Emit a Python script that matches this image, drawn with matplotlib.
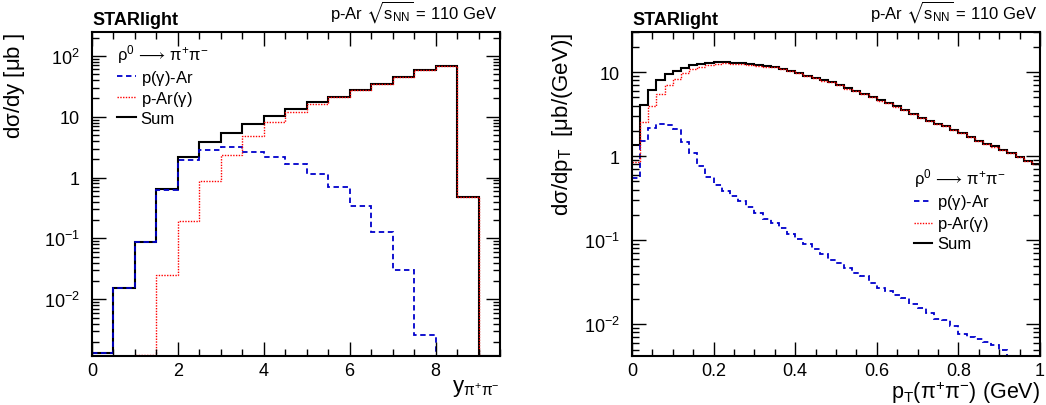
import numpy as np
import matplotlib
matplotlib.use('Agg')
import matplotlib.pyplot as plt
from matplotlib.ticker import LogLocator, FuncFormatter, NullFormatter, MultipleLocator

plt.rcParams['font.family'] = ['Liberation Sans', 'DejaVu Sans']
plt.rcParams['mathtext.fontset'] = 'custom'
plt.rcParams['mathtext.rm'] = 'Liberation Sans'
plt.rcParams['mathtext.it'] = 'Liberation Sans:italic'
plt.rcParams['mathtext.bf'] = 'Liberation Sans:bold'
plt.rcParams['mathtext.sf'] = 'Liberation Sans'
plt.rcParams['mathtext.fallback'] = 'stixsans'

# rapidity histogram, bins of 0.5 from 0 to 9.5
y_edges = np.linspace(0.0, 9.5, 20)
y_pgamma_ar = [0.0013, 0.0155, 0.087, 0.63, 1.97, 2.88, 3.14, 2.67, 2.18, 1.65,
               1.15, 0.69, 0.34, 0.129, 0.0307, 0.0026, 0.0, 0.0, 0.0]
y_p_argamma = [0.0, 0.0, 0.00122, 0.025, 0.197, 0.89, 2.38, 4.9, 8.07, 11.9,
               16.3, 20.8, 27.7, 34.7, 45.0, 58.0, 68.6, 0.48, 0.0]
y_sum = [0.0013, 0.0155, 0.088, 0.655, 2.2, 3.85, 5.4, 7.5, 10.4, 13.5,
         17.4, 21.5, 28.0, 34.8, 45.0, 58.0, 68.6, 0.48, 0.0]

# pT histogram, bins of 0.02 GeV from 0 to 1
pt_edges = np.linspace(0.0, 1.0, 51)
pt_pgamma_ar = [0.55, 1.53, 2.19, 2.44, 2.34, 2.1, 1.49, 1.09, 0.77, 0.57,
                0.45, 0.39, 0.34, 0.29, 0.25, 0.21, 0.18, 0.16, 0.14, 0.12,
                0.104, 0.091, 0.078, 0.068, 0.058, 0.054, 0.047, 0.041, 0.0376, 0.0313,
                0.0268, 0.0249, 0.0221, 0.0204, 0.0174, 0.0158, 0.0138, 0.0117, 0.0113, 0.0096,
                0.0077, 0.0070, 0.0067, 0.0062, 0.0056, 0.0049, 0.0039, 0.0034, 0.0030, 0.0026]
pt_p_argamma = [0.85, 2.56, 4.0, 5.56, 7.1, 8.3, 9.7, 10.8, 11.6, 12.2,
                12.6, 12.7, 12.55, 12.4, 12.15, 11.9, 11.6, 11.35, 10.85, 10.3,
                9.7, 9.0, 8.47, 7.93, 7.54, 6.95, 6.35, 5.96, 5.46, 5.07,
                4.57, 4.28, 3.88, 3.57, 3.18, 2.84, 2.64, 2.42, 2.27, 2.06,
                1.88, 1.69, 1.50, 1.39, 1.30, 1.19, 1.09, 0.97, 0.87, 0.81]
pt_sum = [1.37, 4.1, 6.2, 8.0, 9.4, 10.4, 11.3, 12.0, 12.5, 12.9,
          13.1, 13.1, 12.9, 12.7, 12.4, 12.1, 11.8, 11.5, 11.0, 10.4,
          9.8, 9.1, 8.55, 8.0, 7.6, 7.0, 6.4, 6.0, 5.5, 5.1,
          4.6, 4.3, 3.9, 3.59, 3.2, 2.86, 2.65, 2.43, 2.28, 2.07,
          1.89, 1.70, 1.51, 1.40, 1.31, 1.20, 1.09, 0.97, 0.87, 0.81]

header = r'$\mathregular{\rho^{0}\,\longrightarrow\,\pi^{+}\pi^{-}}$'
labels = [r'p($\mathregular{\gamma}$)-Ar', r'p-Ar($\mathregular{\gamma}$)', 'Sum']
energy = r'p-Ar $\mathregular{\sqrt{s_{NN}}}$ = 110 GeV'


def log_label(v, pos):
    e = int(round(np.log10(v)))
    if e == 0:
        return '1'
    if e == 1:
        return '10'
    return r'$\mathregular{10^{%d}}$' % e


def draw_panel(ax, edges, blue, red, total, ylim):
    lo = ylim[0]
    h_sum = ax.stairs(np.maximum(total, lo), edges, baseline=None,
                      color='black', lw=1.5)
    h_blue = ax.stairs(np.maximum(blue, lo), edges, baseline=None,
                       color='#0000cc', lw=1.3, ls=(0, (3, 2)))
    h_red = ax.stairs(np.maximum(red, lo), edges, baseline=None,
                      color='red', lw=1.0, ls=(0, (1, 1)))
    ax.set_yscale('log')
    ax.set_xlim(edges[0], edges[-1])
    ax.set_ylim(*ylim)
    ax.yaxis.set_major_locator(LogLocator(base=10))
    ax.yaxis.set_major_formatter(FuncFormatter(log_label))
    ax.yaxis.set_minor_locator(LogLocator(base=10, subs=np.arange(2, 10)))
    ax.yaxis.set_minor_formatter(NullFormatter())
    ax.tick_params(which='both', direction='in', top=True, right=True,
                   labelsize=13, width=1.0)
    ax.tick_params(which='major', length=10)
    ax.tick_params(which='minor', length=5)
    ax.tick_params(axis='x', which='major', pad=4)
    ax.tick_params(axis='y', which='major', pad=9)
    for sp in ax.spines.values():
        sp.set_linewidth(1.5)
    ax.text(0.0, 1.012, 'STARlight', transform=ax.transAxes, fontsize=13,
            fontweight='bold', ha='left', va='bottom')
    ax.text(0.995, 1.025, energy, transform=ax.transAxes, fontsize=12,
            ha='right', va='bottom')
    return [h_blue, h_red, h_sum]


fig = plt.figure(figsize=(10.46, 4.06), dpi=100)
ax1 = fig.add_axes([92 / 1046, 1 - 357 / 406, 408 / 1046, 324 / 406])
ax2 = fig.add_axes([632 / 1046, 1 - 357 / 406, 408 / 1046, 324 / 406])

handles = draw_panel(ax1, y_edges, y_pgamma_ar, y_p_argamma, y_sum, (0.00117, 247))
ax1.xaxis.set_major_locator(MultipleLocator(2))
ax1.xaxis.set_minor_locator(MultipleLocator(0.5))
ax1.set_xlabel(r'$\mathregular{y_{\pi^{+}\pi^{-}}}$', loc='right', fontsize=16, labelpad=-1)
ax1.set_ylabel(r'd$\mathregular{\sigma}$/dy [$\mathregular{\mu}$b ]', loc='top',
               fontsize=16, labelpad=12)
leg1 = ax1.legend(handles, labels, title=header, loc='upper left',
                  bbox_to_anchor=(0.062, 0.968), frameon=False, fontsize=12,
                  title_fontsize=12, handlelength=1.1, handletextpad=0.3,
                  labelspacing=0.15, borderpad=0, borderaxespad=0, alignment='left')

handles = draw_panel(ax2, pt_edges, pt_pgamma_ar, pt_p_argamma, pt_sum, (0.0042, 30))
ax2.xaxis.set_major_locator(MultipleLocator(0.2))
ax2.xaxis.set_minor_locator(MultipleLocator(0.05))
ax2.xaxis.set_major_formatter(FuncFormatter(lambda v, p: '%g' % round(v, 2)))
ax2.set_xlabel(r'$\mathregular{p_{T}(\pi^{+}\pi^{-})}$ (GeV)', loc='right',
               fontsize=15.5, labelpad=0)
ax2.set_ylabel(r'd$\mathregular{\sigma}$/dp$\mathregular{_{T}}$  [$\mathregular{\mu}$b/(GeV)]',
               loc='top', fontsize=16, labelpad=6)
leg2 = ax2.legend(handles, labels, title=header, loc='upper left',
                  bbox_to_anchor=(0.69, 0.585), frameon=False, fontsize=12,
                  title_fontsize=12, handlelength=1.1, handletextpad=0.3,
                  labelspacing=0.18, borderpad=0, borderaxespad=0, alignment='left')

fig.savefig('out.png', dpi=100)
